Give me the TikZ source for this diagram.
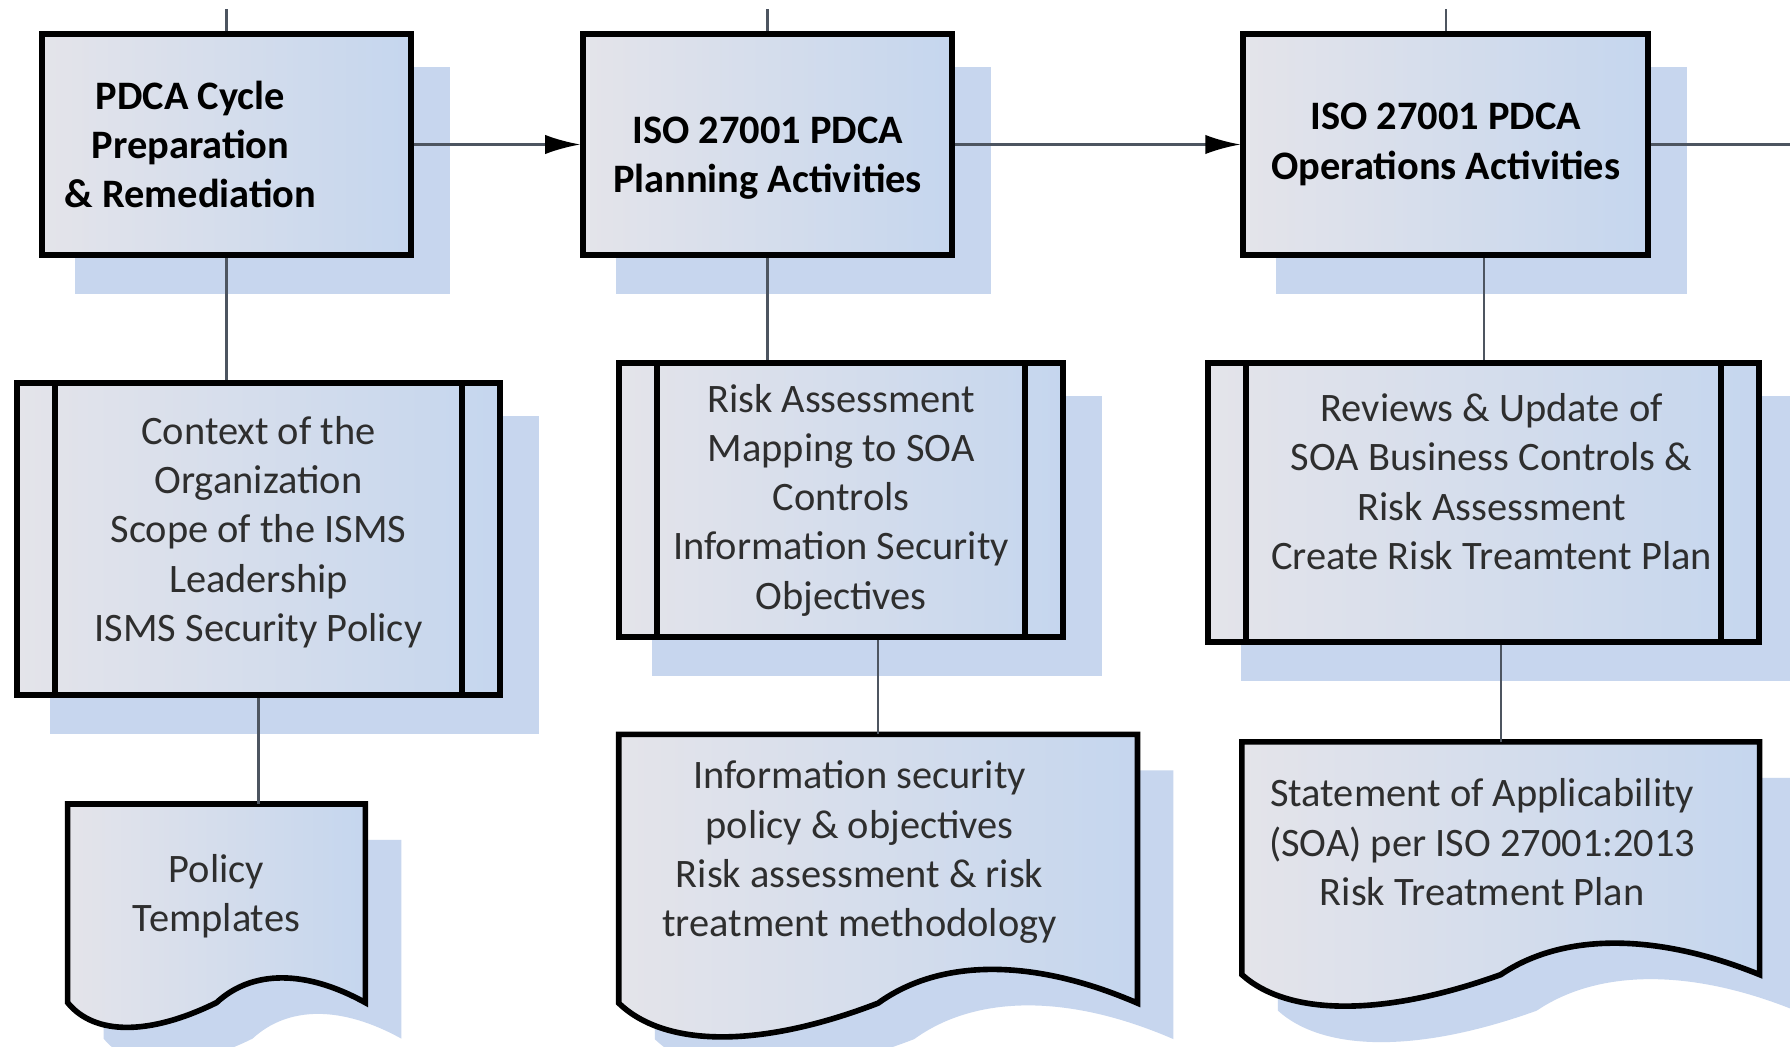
\documentclass[tikz,border=0pt]{standalone}
\usepackage{fontspec}
\setmainfont{Carlito}
\usepackage{tikz}
\usetikzlibrary{arrows.meta,positioning,backgrounds,calc}
\def\boxline{3.2pt}
\def\barsep{0.76cm}
\def\shiftx{0.72}
\def\shifty{-0.72}
\def\boxfont{\fontsize{23}{28}\selectfont}
\definecolor{boxgrey}{HTML}{E4E4EA}
\definecolor{boxblue}{HTML}{C5D6EE}
\definecolor{shadowblue}{HTML}{C7D6EE}
\definecolor{linegrey}{HTML}{4D5560}
\definecolor{inkgrey}{HTML}{2E2E2E}

\begin{document}
\begin{tikzpicture}[line join=miter, myarrow/.style={-{Latex[length=20pt,width=11pt,color=black]}},
    doc path/.style n args={3}{insert path={
        ($(#1.north west)+(#3)$) -- ($(#1.north east)+(#3)$) -- ($(#1.south east)+(#3)$)
        .. controls ($(#1.south east)!0.4!(#1.south)+(0,#2)+(#3)$) and ($(#1.south east)!0.76!(#1.south)+(0,#2)+(#3)$) .. ($(#1.south)+(#3)$)
        .. controls ($(#1.south)!0.45!(#1.south west)+(0,-#2)+(#3)$) and ($(#1.south)!0.82!(#1.south west)+(0,-#2)+(#3)$) .. ($(#1.south west)+(#3)$)
        -- cycle}}]
    \tikzstyle{box}=[rectangle, draw=black, line width=\boxline, left color=boxgrey, right color=boxblue, inner sep=0pt, align=center, font=\boxfont, text=inkgrey]
    \tikzstyle{phase}=[box, font=\bfseries\boxfont, text=black]
    \tikzstyle{process}=[box, path picture={
        \draw[line width=\boxline] ([xshift=\barsep]path picture bounding box.north west) -- ([xshift=\barsep]path picture bounding box.south west);
        \draw[line width=\boxline] ([xshift=-\barsep]path picture bounding box.north east) -- ([xshift=-\barsep]path picture bounding box.south east);}]
    \tikzstyle{record}=[rectangle, inner sep=0pt, align=center, font=\boxfont, text=inkgrey]
    \tikzstyle{docbody}=[draw=black, line width=\boxline, left color=boxgrey, right color=boxblue]
    \tikzstyle{moved}=[align=center, inner sep=0pt, font=\boxfont, text=inkgrey]
    \tikzstyle{movedbold}=[moved, font=\bfseries\boxfont, text=black]
    \tikzstyle{link}=[draw=linegrey, line width=1.4pt]

    \path[use as bounding box] (0,0) rectangle (35.8,-20.94);
    \coordinate (page-t) at (0,-0.18);
    \coordinate (page-r) at (35.8,0);

    % Draw the nodes
    \node[phase, minimum width=7.38cm, minimum height=4.42cm,
        label={[movedbold, xshift=-0.72cm]center:{PDCA Cycle\\Preparation\\\& Remediation}}] (A) at (4.53,-2.89) {};
    \node[phase, minimum width=7.38cm, minimum height=4.42cm, right=3.33cm of A,
        label={[movedbold, yshift=-0.27cm]center:{ISO 27001 PDCA\\Planning Activities}}] (B) {};
    \node[phase, minimum width=8.10cm, minimum height=4.42cm, right=5.71cm of B] (C) {ISO 27001 PDCA\\Operations Activities};

    \node[process, minimum width=9.66cm, minimum height=6.24cm, below=2.45cm of A, xshift=0.64cm,
        label={[moved, yshift=0.14cm]center:{Context of the\\Organization\\Scope of the ISMS\\Leadership\\ISMS Security Policy}}] (D) {};
    \node[process, minimum width=8.88cm, minimum height=5.48cm, below=2.05cm of B, xshift=1.47cm] (E)
        {Risk Assessment\\Mapping to SOA\\Controls\\Information Security\\Objectives};
    \node[process, minimum width=11.02cm, minimum height=5.58cm, below=2.05cm of C, xshift=0.76cm,
        label={[moved, xshift=0.16cm, yshift=0.42cm]center:{Reviews \& Update of\\SOA Business Controls \&\\Risk Assessment\\Create Risk Treamtent Plan}}] (F) {};

    \node[record, minimum width=5.94cm, minimum height=3.96cm, below=2.12cm of D, xshift=-0.84cm,
        label={[moved, yshift=0.14cm]center:{Policy\\Templates}}] (G) {};
    \node[record, minimum width=10.36cm, minimum height=5.36cm, below=1.89cm of E, xshift=0.74cm,
        label={[moved, xshift=-0.37cm, yshift=0.33cm]center:{Information security\\policy \& objectives\\Risk assessment \& risk\\treatment methodology}}] (H) {};
    \node[record, minimum width=10.34cm, minimum height=4.64cm, below=1.94cm of F, xshift=0.34cm,
        label={[moved, xshift=-0.37cm, yshift=0.32cm]center:{Statement of Applicability\\(SOA) per ISO 27001:2013\\Risk Treatment Plan}}] (I) {};

    % Connect every node
    \draw[link, myarrow] (A) -- (B);
    \draw[link, myarrow] (B) -- (C);
    \draw[link] (C.east) -- (C.east -| page-r);

    \foreach \name in {A,B,C}
        \draw[link] (\name.north) -- (\name.north |- page-t);

    \draw[link] (A.south) -- (A.south |- D.north);
    \draw[link] (B.south) -- (B.south |- E.north);
    \draw[link] (F.north |- C.south) -- (F.north);

    \draw[link] (D.south) -- (D.south |- G.north);
    \draw[link] (H.north |- E.south) -- (H.north);
    \draw[link] (I.north |- F.south) -- (I.north);

    \begin{scope}[on background layer]
        \fill[white] (0,0) rectangle (35.8,-20.94);
        \foreach \name in {A,B,C,D,E,F}
            \fill[shadowblue] ($(\name.north west)+(\shiftx,\shifty)$) rectangle ($(\name.south east)+(\shiftx,\shifty)$);
        \foreach \name/\wave in {G/0.66,H/0.9,I/0.84}{
            \fill[shadowblue, doc path={\name}{\wave}{\shiftx,\shifty}];
            \draw[docbody, doc path={\name}{\wave}{0,0}];
        }
    \end{scope}
\end{tikzpicture}
\end{document}
